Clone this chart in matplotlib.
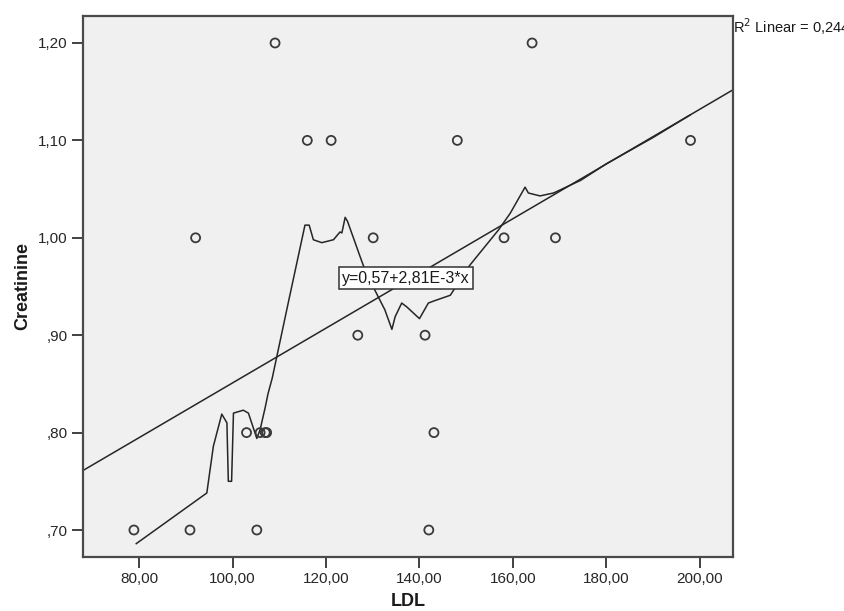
import numpy as np
import matplotlib
matplotlib.use('Agg')
import matplotlib.pyplot as plt

plt.rcParams['font.family'] = ['Liberation Sans', 'DejaVu Sans']

# scatter points (LDL, Creatinine)
ldl = [78.9, 90.9, 105.2, 142.0, 92.1, 109.1, 116.0, 121.1, 130.1, 126.8,
       141.2, 143.1, 103.0, 105.9, 107.0, 107.3, 148.1, 164.1, 158.1, 169.1, 198.0]
creat = [0.70, 0.70, 0.70, 0.70, 1.00, 1.20, 1.10, 1.10, 1.00, 0.90,
         0.90, 0.80, 0.80, 0.80, 0.80, 0.80, 1.10, 1.20, 1.00, 1.00, 1.10]

# linear fit
intercept = 0.57
slope = 2.81e-3
r2_text = 'R$^2$ Linear = 0,244'
eq_text = 'y=0,57+2,81E-3*x'

# smoothed (loess) curve
curve_x = [79.4, 94.5, 95.9, 97.7, 98.8, 99.1, 99.8, 100.2, 102.3, 103.4,
           105.2, 105.9, 107.0, 107.6, 108.5, 112.0, 115.5, 116.4, 117.3, 119.1,
           121.6, 123.0, 123.4, 124.1, 124.6, 127.5, 128.5, 130.8, 132.6, 134.1,
           134.8, 136.2, 137.3, 140.0, 141.9, 143.0, 144.8, 146.6, 150.8, 156.9,
           159.4, 162.6, 163.3, 165.8, 168.7, 174.5, 180.0, 190.0, 197.9]
curve_y = [0.686, 0.738, 0.786, 0.819, 0.810, 0.750, 0.750, 0.820, 0.823, 0.820,
           0.794, 0.803, 0.826, 0.840, 0.856, 0.935, 1.013, 1.013, 0.998, 0.995,
           0.998, 1.006, 1.005, 1.021, 1.017, 0.978, 0.965, 0.943, 0.926, 0.906,
           0.919, 0.933, 0.929, 0.917, 0.933, 0.935, 0.938, 0.941, 0.972, 1.008,
           1.025, 1.052, 1.046, 1.043, 1.046, 1.059, 1.076, 1.103, 1.126]

x_ticks = [80, 100, 120, 140, 160, 180, 200]
x_labels = ['80,00', '100,00', '120,00', '140,00', '160,00', '180,00', '200,00']
y_ticks = [0.70, 0.80, 0.90, 1.00, 1.10, 1.20]
y_labels = [',70', ',80', ',90', '1,00', '1,10', '1,20']

xlim = (68.0, 207.1)
ylim = (0.6723, 1.2277)

fig = plt.figure(figsize=(8.45, 6.11), dpi=100)
ax = fig.add_axes([0.0982, 0.0884, 0.7693, 0.8854])
ax.set_facecolor('#f0f0f0')

# fit line across the whole plot
fx = np.array(xlim)
ax.plot(fx, intercept + slope * fx, color='#262626', lw=1.1, zorder=2)
ax.plot(curve_x, curve_y, color='#262626', lw=1.1, zorder=2)

ax.scatter(ldl, creat, s=42, facecolors='none', edgecolors='#3a3a3a',
           linewidths=1.3, zorder=3)

ax.text(137.1, 0.9587, eq_text, ha='center', va='center', fontsize=11.5,
        color='#1a1a1a', zorder=4,
        bbox=dict(boxstyle='square,pad=0.22', fc='white', ec='#333333', lw=1.1))

ax.text(1.0, 0.98, r2_text, transform=ax.transAxes, ha='left', va='center',
        fontsize=10.5, color='#1a1a1a', clip_on=False)

ax.set_xlim(*xlim)
ax.set_ylim(*ylim)
ax.set_xticks(x_ticks)
ax.set_xticklabels(x_labels)
ax.set_yticks(y_ticks)
ax.set_yticklabels(y_labels)
ax.tick_params(direction='out', length=8, width=1.3, color='#333333',
               labelsize=11, labelcolor='#262626', pad=3)

for sp in ax.spines.values():
    sp.set_color('#4a4a4a')
    sp.set_linewidth(1.6)

ax.set_xlabel('LDL', fontsize=13, fontweight='bold', color='#1a1a1a', labelpad=5)
ax.set_ylabel('Creatinine', fontsize=13, fontweight='bold', color='#1a1a1a', labelpad=5)

fig.savefig('out.png', dpi=100)
plt.close()
